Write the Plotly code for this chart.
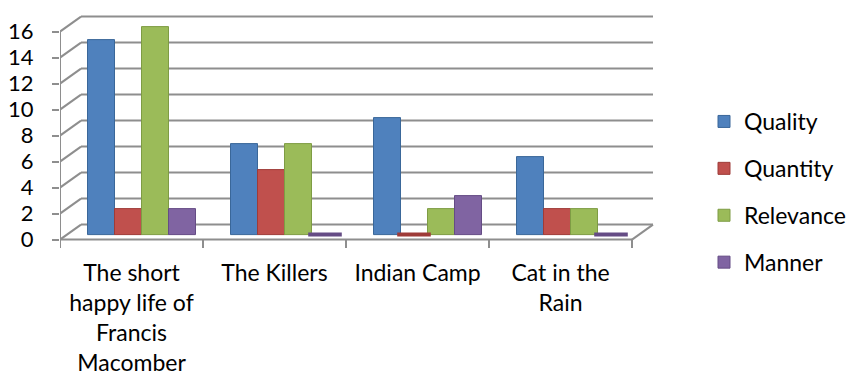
import plotly.graph_objects as go

# ---------------- data ----------------
CATEGORIES = ["The short happy life of Francis Macomber", "The Killers", "Indian Camp", "Cat in the Rain"]
CATEGORY_TICK_TEXT = ["The short<br>happy life of<br>Francis<br>Macomber", "The Killers",
                      "Indian Camp", "Cat in the<br>Rain"]
SERIES = ["Quality", "Quantity", "Relevance", "Manner"]
QUALITY = [15, 7, 9, 6]
QUANTITY = [2, 5, 0, 2]
RELEVANCE = [16, 7, 2, 2]
MANNER = [2, 0, 3, 0]
Y_TICKS = [0, 2, 4, 6, 8, 10, 12, 14, 16]

# ---------------- style ----------------
COLORS = ["#4F81BD", "#C0504D", "#9BBB59", "#8064A2"]
EDGE = ["#3A6799", "#9E3B38", "#7E9C44", "#654C85"]
GRID = "#8E8E8E"
FONT = "Lato"
FS = 22
FS_TEXT = 23

W, H = 848, 377
ML, MR, MT, MB = 60, 0, 5, 127
PX_X = 143.0   # pixels per category
PX_Y = 13.0    # pixels per value unit
DEPTH_DX = 21 / PX_X   # back wall offset
DEPTH_DY = 15 / PX_Y
BAR_DX = 10 / PX_X     # bars sit mid-depth
BAR_DY = 5 / PX_Y
BW = 27 / PX_X

n_cat = len(CATEGORIES)
x_min = -0.5
x_max = x_min + (W - ML - MR) / PX_X
y_min = -0.8
y_max = y_min + (H - MT - MB) / PX_Y

values = [QUALITY, QUANTITY, RELEVANCE, MANNER]

fig = go.Figure()
for j, (name, vals) in enumerate(zip(SERIES, values)):
    xs = [i + BAR_DX + (j - 1.5) * BW for i in range(n_cat)]
    fig.add_trace(go.Bar(
        x=xs, y=vals, base=BAR_DY, width=BW, name=name,
        marker=dict(color=COLORS[j], line=dict(color=EDGE[j], width=1)),
        legendgroup=name, hovertext=CATEGORIES,
    ))
    zx = [x for x, v in zip(xs, vals) if v == 0]
    if zx:
        fig.add_trace(go.Scatter(
            x=zx, y=[BAR_DY] * len(zx), mode="markers", showlegend=False,
            legendgroup=name,
            marker=dict(symbol="line-ew-open", size=24, color=EDGE[j],
                        line=dict(color=EDGE[j], width=4)),
        ))

shapes = []
line = dict(color=GRID, width=2)
left, right = -0.5, n_cat - 0.5
for v in Y_TICKS:
    shapes.append(dict(type="line", xref="x", yref="y", x0=left, y0=v,
                       x1=left + DEPTH_DX, y1=v + DEPTH_DY, line=line, layer="below"))
    shapes.append(dict(type="line", xref="x", yref="y", x0=left + DEPTH_DX, y0=v + DEPTH_DY,
                       x1=right + DEPTH_DX, y1=v + DEPTH_DY, line=line, layer="below"))
# floor front edge and right edge
shapes.append(dict(type="line", xref="x", yref="y", x0=left, y0=0, x1=right, y1=0, line=line, layer="below"))
shapes.append(dict(type="line", xref="x", yref="y", x0=right, y0=0, x1=right + DEPTH_DX,
                   y1=DEPTH_DY, line=line, layer="below"))
# front vertical axis line
shapes.append(dict(type="line", xref="x", yref="y", x0=left, y0=0, x1=left, y1=Y_TICKS[-1],
                   line=line, layer="below"))
# category boundary ticks
for k in range(n_cat + 1):
    b = left + k
    shapes.append(dict(type="line", xref="x", yref="y", x0=b, y0=0, x1=b, y1=-0.65,
                       line=line, layer="below"))

plot_w = W - ML - MR
fig.update_layout(
    width=W, height=H,
    margin=dict(l=ML, r=MR, t=MT, b=MB, autoexpand=False),
    paper_bgcolor="white", plot_bgcolor="white",
    barmode="overlay",
    font=dict(family=FONT, size=FS, color="#000000"),
    shapes=shapes,
    showlegend=True,
    legend=dict(xref="paper", yref="paper", x=(704 - ML) / plot_w,
                y=1 - (192 - MT) / (H - MT - MB),
                xanchor="left", yanchor="middle", tracegroupgap=14,
                font=dict(family=FONT, size=FS_TEXT, color="#000000"),
                bgcolor="rgba(0,0,0,0)"),
    xaxis=dict(range=[x_min, x_max], tickmode="array", tickvals=list(range(n_cat)),
               ticktext=CATEGORY_TICK_TEXT, ticks="", showgrid=False, zeroline=False,
               showline=False, ticklabelstandoff=7, tickfont=dict(size=FS_TEXT)),
    yaxis=dict(range=[y_min, y_max], tickmode="array", tickvals=Y_TICKS, ticks="outside",
               ticklen=7, tickwidth=2, tickcolor=GRID, showgrid=False, zeroline=False,
               showline=False, ticklabelstandoff=14, tickfont=dict(size=FS)),
)

fig.write_html("out.html")
